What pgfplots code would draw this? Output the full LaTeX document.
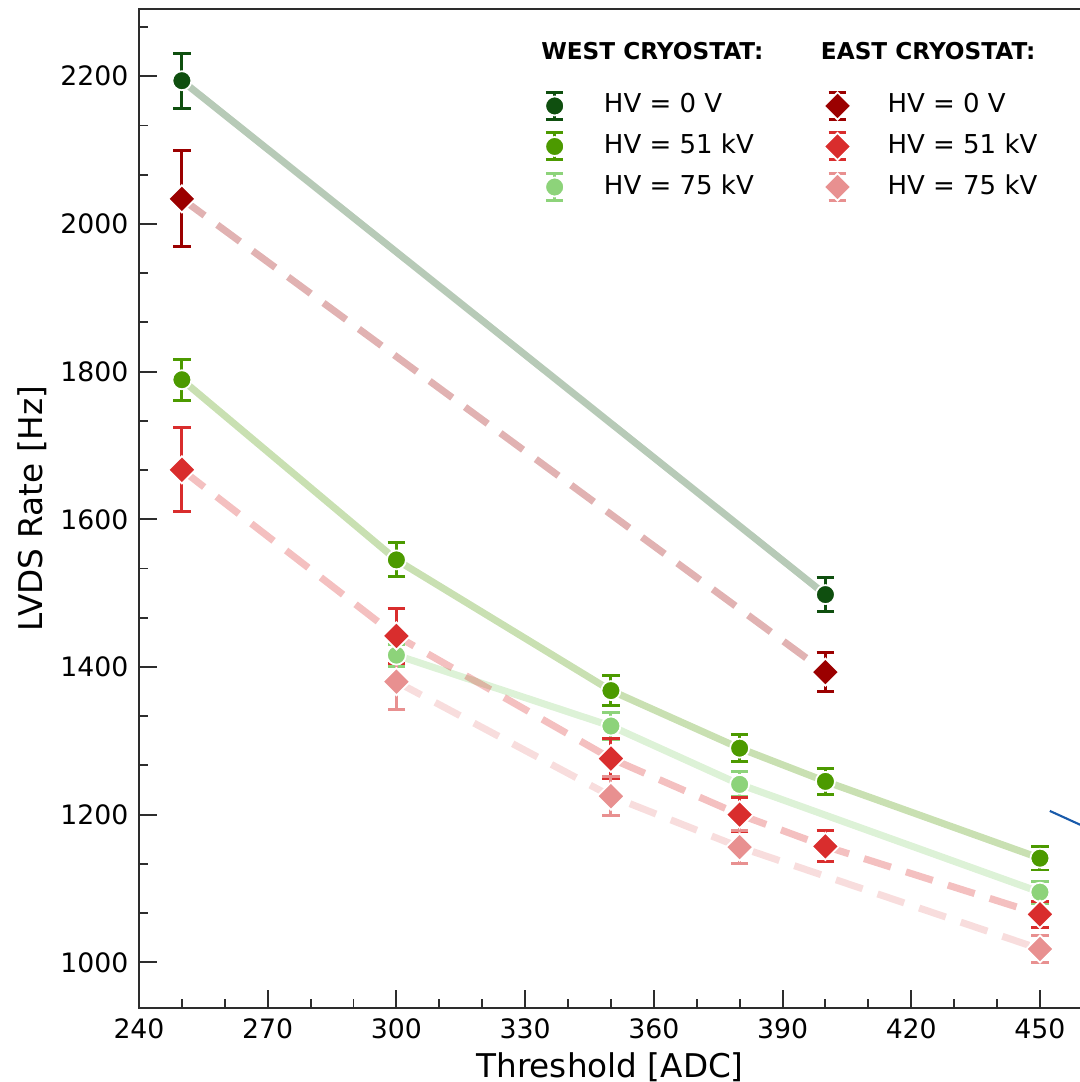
\documentclass[border=0pt]{standalone}
\usepackage{fontspec}
\setmainfont{DejaVu Sans}
\usepackage{pgfplots}
\pgfplotsset{compat=1.18}
\definecolor{wz}{RGB}{15,79,15}
\definecolor{wf}{RGB}{76,154,0}
\definecolor{ws}{RGB}{141,211,122}
\definecolor{ez}{RGB}{155,0,0}
\definecolor{ef}{RGB}{217,45,45}
\definecolor{es}{RGB}{232,144,144}
\definecolor{axc}{RGB}{45,45,45}

\pgfplotsset{
  wline/.style={draw=#1, draw opacity=0.3, line width=2pt, mark=none, solid, forget plot},
  eline/.style={draw=#1, draw opacity=0.3, line width=2pt, mark=none, dash pattern=on 8pt off 4.5pt, forget plot},
  wmark/.style={color=#1, only marks, mark=*, mark size=2.7pt,
    mark options={fill=#1, draw=white, line width=0.5pt, solid},
    error bars/.cd, y dir=both, y explicit,
    error bar style={line width=0.85pt, solid, #1},
    error mark options={line width=0.85pt, mark size=2.5pt, solid, rotate=90, #1}},
  emark/.style={color=#1, only marks, mark=square*, mark size=2.75pt,
    mark options={fill=#1, draw=white, line width=0.5pt, rotate=45, solid},
    error bars/.cd, y dir=both, y explicit,
    error bar style={line width=0.85pt, solid, #1},
    error mark options={line width=0.85pt, mark size=2.5pt, solid, rotate=90, #1}},
}

\begin{document}
\begin{tikzpicture}
\begin{axis}[
  width=9.46cm, height=9.984cm, scale only axis,
  xmin=240, xmax=460.5, ymin=938.5, ymax=2290.7,
  axis line style={line width=0.6pt, axc},
  tick pos=left, tick align=inside,
  major tick length=0.175cm, minor tick length=0.09cm,
  tick style={line width=0.55pt, axc},
  xtick={240,270,...,450},
  minor xtick={250,260,280,290,310,320,340,350,370,380,400,410,430,440},
  ytick={1000,1200,...,2200},
  minor ytick={1066.7,1133.3,1266.7,1333.3,1466.7,1533.3,1666.7,1733.3,1866.7,1933.3,2066.7,2133.3,2266.7},
  ticklabel style={font=\fontsize{7.6}{9}\selectfont},
  /pgf/number format/assume math mode=true,
  /pgf/number format/set thousands separator={},
  yticklabel style={inner xsep=2.85pt},
  xticklabel style={inner ysep=3pt},
  xlabel={Threshold [ADC]},
  ylabel={LVDS Rate [Hz]},
  every axis x label/.style={at={(axis description cs:0.498,-0.0697)}, anchor=base, font=\fontsize{9.3}{11}\selectfont},
  every axis y label/.style={at={(axis description cs:-0.1015,0.5)}, rotate=90, anchor=base, font=\fontsize{9.3}{11}\selectfont},
  legend image code/.code={
    \path[draw=none, fill=none] (-0.13cm,-0.14cm) rectangle (0.13cm,0.14cm);
    \draw[#1, mark=none, solid, line width=0.85pt] (0cm,-0.135cm) -- (0cm,0.135cm)
       (-0.088cm,-0.135cm) -- (0.088cm,-0.135cm) (-0.088cm,0.135cm) -- (0.088cm,0.135cm);
    \draw[#1] plot coordinates {(0cm,0cm)};
  },
  legend columns=3, transpose legend, legend cell align=left,
  legend style={at={(axis cs:333.86,2180.1)}, anchor=north west, draw=none, fill=none,
    inner sep=0pt, outer sep=0pt, row sep=3pt,
    nodes={inner sep=0pt, font=\fontsize{7.4}{8.9}\selectfont},
    /tikz/every odd column/.append style={column sep=0.363cm},
    /tikz/every even column/.append style={column sep=0.70cm}},
  clip=false,
]
% connecting lines
\addplot[wline=wz] coordinates {(250,2194) (400,1498)};
\addplot[wline=wf] coordinates {(250,1789) (300,1545) (350,1368) (380,1290) (400,1245) (450,1141)};
\addplot[wline=ws] coordinates {(300,1416) (350,1320) (380,1241) (450,1095)};
\addplot[eline=ez] coordinates {(250,2034) (400,1393)};
\addplot[eline=ef] coordinates {(250,1667) (300,1442) (350,1276) (380,1200) (400,1157) (450,1065)};
\addplot[eline=es] coordinates {(300,1380) (350,1225) (380,1156) (450,1018)};
% markers with error bars
\addplot[wmark=wz] coordinates {(250,2194) +- (0,37) (400,1498) +- (0,23)};
\addlegendentry{HV = 0 V}
\addplot[wmark=wf] coordinates {(250,1789) +- (0,28) (300,1545) +- (0,23) (350,1368) +- (0,20) (380,1290) +- (0,18) (400,1245) +- (0,18) (450,1141) +- (0,16)};
\addlegendentry{HV = 51 kV}
\addplot[wmark=ws] coordinates {(300,1416) +- (0,15) (350,1320) +- (0,18) (380,1241) +- (0,17) (450,1095) +- (0,15)};
\addlegendentry{HV = 75 kV}
\addplot[emark=ez] coordinates {(250,2034) +- (0,65) (400,1393) +- (0,26)};
\addlegendentry{HV = 0 V}
\addplot[emark=ef] coordinates {(250,1667) +- (0,57) (300,1442) +- (0,37) (350,1276) +- (0,27) (380,1200) +- (0,23) (400,1157) +- (0,21) (450,1065) +- (0,18)};
\addlegendentry{HV = 51 kV}
\addplot[emark=es] coordinates {(300,1380) +- (0,37) (350,1225) +- (0,26) (380,1156) +- (0,22) (450,1018) +- (0,18)};
\addlegendentry{HV = 75 kV}
\node[anchor=base west, inner sep=0pt, font=\bfseries\fontsize{6.6}{8}\selectfont] at (axis cs:333.6,2223) {WEST CRYOSTAT:};
\node[anchor=base west, inner sep=0pt, font=\bfseries\fontsize{6.6}{8}\selectfont] at (axis cs:398.8,2223) {EAST CRYOSTAT:};
\draw[line width=0.6pt, color={rgb,255:red,25;green,90;blue,170}] (axis cs:452.3,1205) -- (axis cs:461,1182);
\end{axis}
\pgfresetboundingbox
\path[use as bounding box] (-1.39cm,-0.743cm) rectangle (9.40cm,10.077cm);
\end{tikzpicture}
\end{document}
